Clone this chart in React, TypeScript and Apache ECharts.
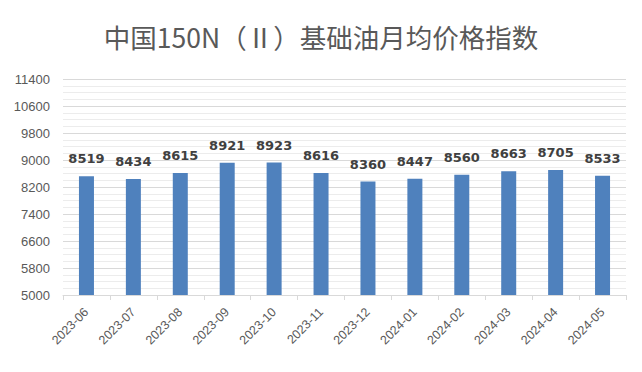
import React, { useEffect, useRef } from "react";
import * as echarts from "echarts";

const categories = ["2023-06", "2023-07", "2023-08", "2023-09", "2023-10", "2023-11", "2023-12", "2024-01", "2024-02", "2024-03", "2024-04", "2024-05"];
const values = [8519, 8434, 8615, 8921, 8923, 8616, 8360, 8447, 8560, 8663, 8705, 8533];
const titleText = "中国150N（Ⅱ）基础油月均价格指数";

export default function App() {
  const ref = useRef<HTMLDivElement>(null);
  useEffect(() => {
    if (!ref.current) return;
    const chart = echarts.init(ref.current, null, { renderer: "svg" });
    chart.setOption({
      animation: false,
      backgroundColor: "#ffffff",
      title: {
        text: titleText,
        left: "center",
        top: 18,
        textStyle: { fontFamily: "Noto Sans CJK SC", fontSize: 26.5, fontWeight: "normal", color: "#595959" },
      },
      grid: { left: 63, right: 16, top: 79, bottom: 77 },
      xAxis: {
        type: "category",
        data: categories,
        axisLine: { lineStyle: { color: "#d9d9d9" } },
        axisTick: { show: true, length: 5, lineStyle: { color: "#d9d9d9" } },
        axisLabel: { rotate: 45, color: "#595959", fontSize: 12.5, fontFamily: "Liberation Sans", margin: 15 },
      },
      yAxis: {
        type: "value",
        min: 5000,
        max: 11400,
        interval: 800,
        axisLine: { show: false },
        axisTick: { show: false },
        axisLabel: { color: "#595959", fontSize: 13, fontFamily: "Liberation Sans", margin: 13, formatter: (v: number) => String(v) },
        splitLine: { lineStyle: { color: "#d9d9d9" } },
        minorTick: { show: false, splitNumber: 4 },
        minorSplitLine: { show: true, lineStyle: { color: "#ececec" } },
      },
      series: [
        {
          type: "bar",
          data: values,
          barWidth: 15,
          itemStyle: { color: "#4f81bd" },
          label: {
            show: true,
            position: "top",
            distance: 11,
            color: "#404040",
            fontWeight: "bold",
            fontSize: 13,
            fontFamily: "DejaVu Sans",
          },
        },
      ],
    });
    return () => chart.dispose();
  }, []);
  return (
    <div
      style={{
        position: "fixed",
        left: 0,
        top: 0,
        width: 642,
        height: 372,
        boxSizing: "border-box",
        border: "1px solid #d9d9d9",
        background: "#fff",
      }}
    >
      <div ref={ref} style={{ position: "absolute", left: -1, top: -1, width: 642, height: 372 }} />
    </div>
  );
}
